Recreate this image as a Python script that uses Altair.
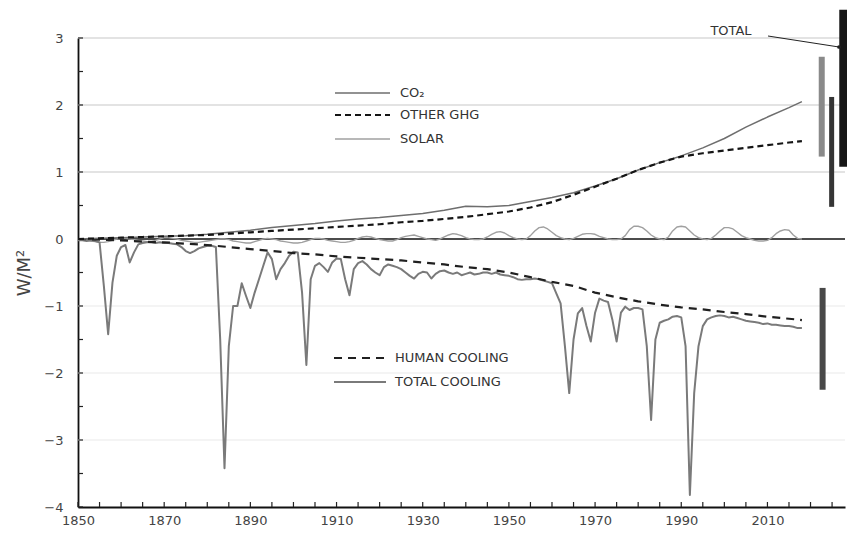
import altair as alt
import pandas as pd

# ---------------- data ----------------
smooth_years = [1850, 1855, 1860, 1865, 1870, 1875, 1880, 1885, 1890, 1895,
                1900, 1905, 1910, 1915, 1920, 1925, 1930, 1935, 1940, 1945,
                1950, 1955, 1960, 1965, 1970, 1975, 1980, 1985, 1990, 1995,
                2000, 2005, 2010, 2015, 2018]
co2 = [0.00, 0.01, 0.02, 0.03, 0.04, 0.05, 0.07, 0.10, 0.13, 0.17,
       0.20, 0.23, 0.27, 0.30, 0.32, 0.35, 0.38, 0.43, 0.49, 0.48,
       0.50, 0.56, 0.62, 0.69, 0.79, 0.90, 1.03, 1.14, 1.24, 1.36,
       1.50, 1.67, 1.82, 1.96, 2.05]
other_ghg = [0.00, 0.01, 0.02, 0.03, 0.04, 0.05, 0.06, 0.08, 0.10, 0.12,
             0.14, 0.16, 0.18, 0.20, 0.22, 0.25, 0.27, 0.30, 0.33, 0.37,
             0.41, 0.47, 0.55, 0.66, 0.78, 0.90, 1.03, 1.14, 1.23, 1.28,
             1.32, 1.36, 1.40, 1.44, 1.46]
human_cooling = [0.00, -0.01, -0.02, -0.04, -0.05, -0.07, -0.09, -0.12, -0.15, -0.18,
                 -0.21, -0.23, -0.26, -0.28, -0.30, -0.32, -0.35, -0.38, -0.42, -0.45,
                 -0.50, -0.57, -0.64, -0.70, -0.80, -0.87, -0.93, -0.98, -1.02, -1.05,
                 -1.09, -1.12, -1.16, -1.19, -1.21]

annual_years = list(range(1850, 2019))
solar = [
    0.00, -0.01, -0.02, -0.03, -0.04, -0.05, -0.05, -0.04, -0.02, 0.00,   # 1850s
    0.01, 0.01, 0.00, -0.01, -0.02, -0.03, -0.04, -0.04, -0.02, 0.00,     # 1860s
    0.02, 0.02, 0.01, 0.00, -0.02, -0.03, -0.04, -0.05, -0.05, -0.04,     # 1870s
    -0.03, -0.02, -0.01, 0.00, 0.00, -0.01, -0.03, -0.04, -0.05, -0.06,  # 1880s
    -0.06, -0.04, -0.02, 0.00, 0.01, 0.00, -0.01, -0.03, -0.04, -0.05,   # 1890s
    -0.06, -0.06, -0.05, -0.03, -0.01, 0.01, 0.01, 0.00, -0.02, -0.03,   # 1900s
    -0.04, -0.05, -0.05, -0.04, -0.02, 0.01, 0.03, 0.04, 0.03, 0.01,     # 1910s
    -0.01, -0.02, -0.03, -0.03, -0.01, 0.02, 0.04, 0.05, 0.06, 0.04,     # 1920s
    0.02, 0.00, -0.01, -0.02, 0.00, 0.03, 0.06, 0.08, 0.07, 0.05,        # 1930s
    0.02, 0.00, -0.01, -0.01, 0.00, 0.03, 0.07, 0.10, 0.11, 0.09,        # 1940s
    0.05, 0.02, 0.00, -0.01, 0.00, 0.05, 0.12, 0.17, 0.18, 0.15,         # 1950s
    0.10, 0.05, 0.02, 0.00, -0.01, 0.01, 0.04, 0.07, 0.08, 0.08,         # 1960s
    0.07, 0.04, 0.02, 0.00, -0.01, -0.01, 0.00, 0.05, 0.14, 0.19,        # 1970s
    0.19, 0.17, 0.12, 0.06, 0.02, 0.00, -0.01, 0.03, 0.12, 0.18,         # 1980s
    0.19, 0.18, 0.12, 0.06, 0.02, 0.00, -0.01, 0.01, 0.06, 0.12,         # 1990s
    0.17, 0.17, 0.15, 0.10, 0.05, 0.02, 0.00, -0.02, -0.03, -0.03,       # 2000s
    -0.02, 0.02, 0.08, 0.12, 0.14, 0.13, 0.06, 0.01, 0.00                # 2010s
]
total_cooling = [
    -0.02, -0.02, -0.03, -0.02, -0.03, -0.05, -0.70, -1.42, -0.65, -0.25,  # 1850s
    -0.12, -0.09, -0.35, -0.20, -0.08, -0.06, -0.05, -0.05, -0.06, -0.05,  # 1860s
    -0.06, -0.06, -0.07, -0.08, -0.12, -0.18, -0.21, -0.18, -0.14, -0.12,  # 1870s
    -0.10, -0.10, -0.12, -1.50, -3.42, -1.60, -1.00, -1.00, -0.66, -0.85,  # 1880s
    -1.03, -0.80, -0.60, -0.40, -0.20, -0.30, -0.60, -0.45, -0.36, -0.25,  # 1890s
    -0.19, -0.20, -0.80, -1.88, -0.60, -0.40, -0.36, -0.42, -0.49, -0.35,  # 1900s
    -0.29, -0.30, -0.60, -0.84, -0.45, -0.36, -0.33, -0.38, -0.45, -0.50,  # 1910s
    -0.54, -0.42, -0.38, -0.40, -0.42, -0.45, -0.50, -0.55, -0.59, -0.52,  # 1920s
    -0.49, -0.50, -0.59, -0.52, -0.48, -0.47, -0.50, -0.52, -0.50, -0.54,  # 1930s
    -0.52, -0.50, -0.53, -0.52, -0.50, -0.50, -0.52, -0.50, -0.53, -0.54,  # 1940s
    -0.55, -0.57, -0.60, -0.61, -0.60, -0.60, -0.59, -0.60, -0.62, -0.64,  # 1950s
    -0.66, -0.81, -0.96, -1.60, -2.30, -1.50, -1.11, -1.03, -1.30, -1.53,  # 1960s
    -1.10, -0.89, -0.92, -0.94, -1.20, -1.53, -1.10, -1.01, -1.06, -1.03,  # 1970s
    -1.03, -1.05, -1.60, -2.70, -1.50, -1.25, -1.22, -1.20, -1.16, -1.15,  # 1980s
    -1.17, -1.60, -3.82, -2.30, -1.60, -1.30, -1.20, -1.17, -1.15, -1.14,  # 1990s
    -1.15, -1.17, -1.16, -1.18, -1.20, -1.22, -1.23, -1.24, -1.25, -1.27,  # 2000s
    -1.26, -1.28, -1.28, -1.29, -1.30, -1.30, -1.31, -1.33, -1.33          # 2010s
]

# uncertainty bars at the right-hand side
bar_names = ["CO₂ range", "Other GHG range", "Total", "Human cooling range"]
bar_years = [2022.6, 2024.9, 2027.6, 2022.8]
bar_low = [1.23, 0.48, 1.08, -2.25]
bar_high = [2.72, 2.12, 3.42, -0.73]

x_tick_values = list(range(1850, 2030, 5))
y_tick_values = [-4, -3.5, -3, -2.5, -2, -1.5, -1, -0.5, 0, 0.5, 1, 1.5, 2, 2.5, 3]
grid_major = [1, 2, 3]
grid_faint = [-1, -2, -3]

legend_upper = ["CO₂", "OTHER GHG", "SOLAR"]
legend_lower = ["HUMAN COOLING", "TOTAL COOLING"]
annotation_total = "TOTAL"
y_title = "W/M²"

# ---------------- styles ----------------
FONT = "DejaVu Sans"
W, H = 767, 469

xscale = alt.Scale(domain=[1850, 2028], nice=False, zero=False)
yscale = alt.Scale(domain=[-4, 3], nice=False, zero=False)

styles = {
    "CO₂": dict(color="#6e6e6e", strokeWidth=1.5),
    "OTHER GHG": dict(color="#151515", strokeWidth=2.2, strokeDash=[6, 4]),
    "SOLAR": dict(color="#a0a0a0", strokeWidth=1.4),
    "HUMAN COOLING": dict(color="#202020", strokeWidth=2.2, strokeDash=[8, 6]),
    "TOTAL COOLING": dict(color="#7a7a7a", strokeWidth=2.0),
}
bar_styles = {
    "CO₂ range": dict(color="#8a8a8a", strokeWidth=6),
    "Other GHG range": dict(color="#353535", strokeWidth=5),
    "Total": dict(color="#161616", strokeWidth=8),
    "Human cooling range": dict(color="#484848", strokeWidth=6),
}

x_axis = alt.Axis(values=x_tick_values, format="d",
                  labelExpr="(datum.value - 1850) % 20 == 0 ? datum.label : ''",
                  tickSize=0, labelPadding=7, labelFlush=False,
                  domainColor="#111", domainWidth=1.8,
                  grid=False, labelFont=FONT, labelFontSize=13, labelColor="#444")
y_axis = alt.Axis(values=y_tick_values, format="d",
                  labelExpr="datum.value % 1 == 0 ? datum.label : ''",
                  tickSize=0, labelPadding=15, labelFlush=False,
                  domainColor="#111", domainWidth=1.8,
                  grid=False, labelFont=FONT, labelFontSize=13, labelColor="#444",
                  titleFont=FONT, titleFontSize=18, titleFontWeight="normal",
                  titleColor="#444", titlePadding=10)


def xenc():
    return alt.X("year:Q", scale=xscale, axis=x_axis, title=None)


def yenc(field="value"):
    return alt.Y(f"{field}:Q", scale=yscale, axis=y_axis, title=y_title)


layers = []

# grid lines
layers.append(
    alt.Chart(pd.DataFrame({"value": grid_major})).mark_rule(color="#dadada", strokeWidth=1.5)
    .encode(y=yenc(), x=alt.value(0), x2=alt.value(W))
)
layers.append(
    alt.Chart(pd.DataFrame({"value": grid_faint})).mark_rule(color="#f1f1f1", strokeWidth=1.5)
    .encode(y=yenc(), x=alt.value(0), x2=alt.value(W))
)

# inward tick marks
layers.append(
    alt.Chart(pd.DataFrame({"year": x_tick_values})).mark_rule(color="#222", strokeWidth=1.2)
    .encode(x=xenc(), y=alt.value(H), y2=alt.value(H - 5))
)
layers.append(
    alt.Chart(pd.DataFrame({"value": y_tick_values})).mark_rule(color="#222", strokeWidth=1.2)
    .encode(y=yenc(), x=alt.value(0), x2=alt.value(5))
)

# zero line
layers.append(
    alt.Chart(pd.DataFrame({"value": [0]})).mark_rule(color="#111", strokeWidth=1.6)
    .encode(y=yenc(), x=alt.value(0), x2=alt.value(W))
)

# series
series = [
    ("SOLAR", annual_years, solar),
    ("TOTAL COOLING", annual_years, total_cooling),
    ("HUMAN COOLING", smooth_years, human_cooling),
    ("CO₂", smooth_years, co2),
    ("OTHER GHG", smooth_years, other_ghg),
]
for name, yrs, vals in series:
    df = pd.DataFrame({"year": yrs, "value": vals})
    layers.append(
        alt.Chart(df).mark_line(strokeJoin="round", **styles[name])
        .encode(x=xenc(), y=yenc())
    )

# right-hand bars
bars_df = pd.DataFrame({"name": bar_names, "year": bar_years, "low": bar_low, "high": bar_high})
for name in bar_names:
    layers.append(
        alt.Chart(bars_df[bars_df["name"] == name]).mark_rule(strokeCap="butt", **bar_styles[name])
        .encode(x=xenc(), y=alt.Y("low:Q", scale=yscale, axis=y_axis, title=y_title), y2="high:Q")
    )


# legends drawn inside the plot
def legend_block(labels, x0, x1, xt, ys):
    out = []
    for lab, yy in zip(labels, ys):
        st = dict(styles[lab])
        st["strokeWidth"] = min(st["strokeWidth"], 2.0)
        out.append(
            alt.Chart(pd.DataFrame({"t": [lab]})).mark_rule(**st)
            .encode(x=alt.value(x0), x2=alt.value(x1), y=alt.value(yy))
        )
        out.append(
            alt.Chart(pd.DataFrame({"t": [lab]})).mark_text(
                align="left", baseline="middle", font=FONT, fontSize=13, color="#333")
            .encode(x=alt.value(xt), y=alt.value(yy), text="t:N")
        )
    return out


layers += legend_block(legend_upper, 257, 312, 322, [55, 77, 101])
layers += legend_block(legend_lower, 256, 308, 317, [320, 344])

# "Total" annotation with arrow
layers.append(
    alt.Chart(pd.DataFrame({"t": [annotation_total]})).mark_text(
        align="center", baseline="middle", font=FONT, fontSize=13, color="#333")
    .encode(x=alt.value(653), y=alt.value(-7), text="t:N")
)
layers.append(
    alt.Chart(pd.DataFrame({"t": [annotation_total]})).mark_rule(color="#222", strokeWidth=1)
    .encode(x=alt.value(690), x2=alt.value(761), y=alt.value(-2), y2=alt.value(9))
)
layers.append(
    alt.Chart(pd.DataFrame({"t": [annotation_total]})).mark_point(
        filled=True, color="#222", size=14, opacity=1)
    .encode(x=alt.value(761), y=alt.value(9))
)

chart = (
    alt.layer(*layers)
    .properties(width=W, height=H,
                padding={"left": 78, "top": 38, "right": 2, "bottom": 32},
                autosize=alt.AutoSizeParams(type="none"),
                background="white")
    .configure_view(stroke=None)
)

chart.save("out.html", embed_options={"renderer": "svg", "actions": False})
